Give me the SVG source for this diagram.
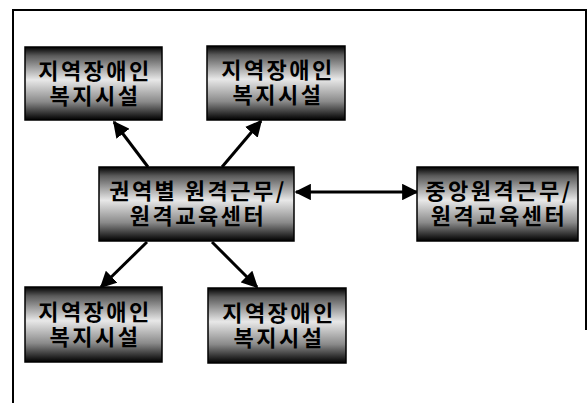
<svg xmlns="http://www.w3.org/2000/svg" width="587" height="403" viewBox="0 0 587 403">
  <defs>
    <linearGradient id="boxFill" x1="0" y1="0" x2="0" y2="1">
      <stop offset="0" stop-color="#000"/>
      <stop offset="0.12" stop-color="#5a5a5a"/>
      <stop offset="0.45" stop-color="#e8e8e8"/>
      <stop offset="0.75" stop-color="#8a8a8a"/>
      <stop offset="1" stop-color="#000"/>
    </linearGradient>
    <marker id="head" viewBox="0 0 10 10" refX="9" refY="5" markerWidth="5.5" markerHeight="5.5" orient="auto-start-reverse" markerUnits="strokeWidth">
      <path d="M0,0 L10,5 L0,10 z" fill="#000"/>
    </marker>
  </defs>
  <style>
    .box { fill: url(#boxFill); stroke: #000; stroke-width: 1.5; }
    .label { font-family: "Noto Sans CJK KR", "Noto Sans", sans-serif; font-weight: bold; font-size: 22px; letter-spacing: 2.5px; fill: #000; text-anchor: middle; }
    .link { stroke: #000; stroke-width: 3; fill: none; marker-end: url(#head); }
    .frame { stroke: #000; stroke-width: 2; fill: none; }
  </style>

  <rect width="587" height="403" fill="#fff"/>
  <path class="frame" d="M13,403 L13,10 L586,10 L586,330"/>

  <g id="connectors">
    <line class="link" x1="148" y1="167" x2="114" y2="122"/>
    <line class="link" x1="222" y1="167" x2="261" y2="121"/>
    <line class="link" x1="147" y1="242" x2="101" y2="287"/>
    <line class="link" x1="212" y1="242" x2="257" y2="287"/>
    <line class="link" x1="296" y1="192" x2="417" y2="192" marker-start="url(#head)"/>
  </g>

  <g id="facility-top-left">
    <rect class="box" x="25" y="47" width="137" height="73"/>
    <text class="label"><tspan x="95" y="79">지역장애인</tspan><tspan x="95" y="104">복지시설</tspan></text>
  </g>
  <g id="facility-top-right">
    <rect class="box" x="207" y="46" width="138" height="74"/>
    <text class="label"><tspan x="278" y="78">지역장애인</tspan><tspan x="278" y="103">복지시설</tspan></text>
  </g>
  <g id="regional-center">
    <rect class="box" x="99" y="167" width="195" height="74"/>
    <text class="label"><tspan x="198" y="199">권역별 원격근무/</tspan><tspan x="198" y="224">원격교육센터</tspan></text>
  </g>
  <g id="central-center">
    <rect class="box" x="417" y="167" width="161" height="74"/>
    <text class="label"><tspan x="499" y="199">중앙원격근무/</tspan><tspan x="499" y="224">원격교육센터</tspan></text>
  </g>
  <g id="facility-bottom-left">
    <rect class="box" x="25" y="287" width="137" height="75"/>
    <text class="label"><tspan x="95" y="320">지역장애인</tspan><tspan x="95" y="345">복지시설</tspan></text>
  </g>
  <g id="facility-bottom-right">
    <rect class="box" x="208" y="288" width="138" height="75"/>
    <text class="label"><tspan x="279" y="321">지역장애인</tspan><tspan x="279" y="346">복지시설</tspan></text>
  </g>
</svg>
